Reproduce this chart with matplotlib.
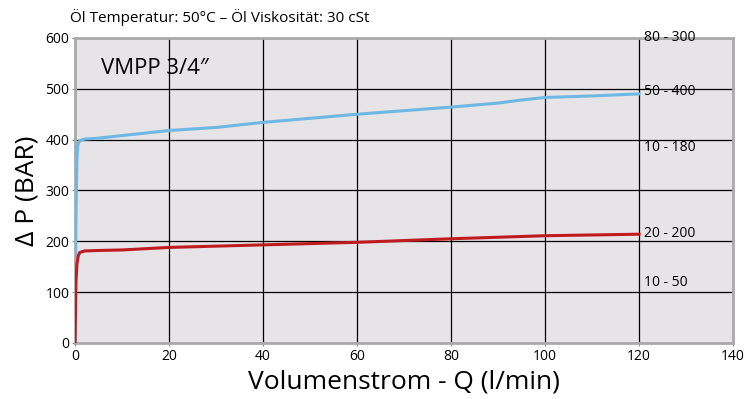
import matplotlib
matplotlib.use("Agg")
import matplotlib.pyplot as plt

plt.rcParams["font.family"] = ["Open Sans", "DejaVu Sans"]

# curve data
blue_q = [0, 0.2, 0.4, 0.6, 1.0, 2, 5, 10, 20, 30, 40, 50, 60, 70, 80, 90, 95, 100, 110, 120]
blue_p = [0, 250, 360, 390, 398, 401, 403, 408, 418, 424, 434, 442, 450, 457, 464, 472, 478, 483, 486, 490]
red_q = [0, 0.2, 0.4, 0.7, 1.0, 2, 5, 10, 20, 40, 60, 80, 100, 120]
red_p = [0, 120, 155, 172, 178, 181, 182, 183, 188, 193, 198, 205, 211, 214]

range_labels = ["80 - 300", "50 - 400", "10 - 180", "20 - 200", "10 - 50"]
range_levels = [600, 494, 384, 216, 118]

fig = plt.figure(figsize=(7.45, 3.99), dpi=100)
ax = fig.add_axes([0.1007, 0.1404, 0.8833, 0.7644])
ax.set_facecolor("#e6e4e6")

ax.set_xlim(0, 140)
ax.set_ylim(0, 600)
ax.set_xticks(range(0, 141, 20))
ax.set_yticks(range(0, 601, 100))
ax.grid(True, color="black", linewidth=0.9)
ax.set_axisbelow(True)
for s in ax.spines.values():
    s.set_color("#aaaaaa")
    s.set_linewidth(2)
ax.tick_params(length=2, color="#888888", labelsize=10, pad=2)

ax.plot(blue_q, blue_p, color="#6fb8e3", lw=2.2, zorder=3)
ax.plot(red_q, red_p, color="#c01c20", lw=2.2, zorder=3)

for lab, lev in zip(range_labels, range_levels):
    ax.text(121, lev, lab, fontsize=10, va="center", ha="left", clip_on=False)

ax.text(0.04, 0.9, "VMPP 3/4\u2033", transform=ax.transAxes, fontsize=16, va="center")
fig.text(0.094, 0.955, "Öl Temperatur: 50°C – Öl Viskosität: 30 cSt", fontsize=11, va="center")

ax.set_xlabel("Volumenstrom - Q (l/min)", fontsize=19, labelpad=4)
ax.set_ylabel("Δ P (BAR)", fontsize=19, labelpad=4)

fig.savefig("out.png", dpi=100)
